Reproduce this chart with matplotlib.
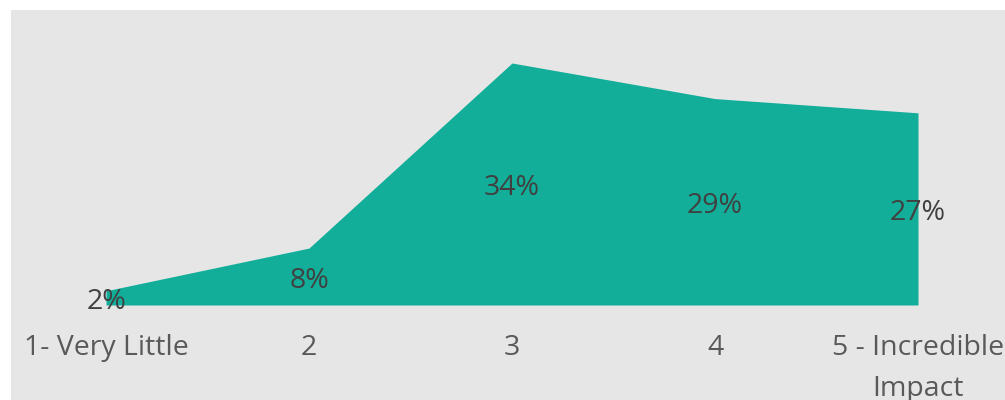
import matplotlib
matplotlib.use("Agg")
import matplotlib.pyplot as plt
from matplotlib.patches import Rectangle

categories = ["1- Very Little", "2", "3", "4", "5 - Incredible\nImpact"]
shares = [2, 8, 34, 29, 27]
value_labels = ["2%", "8%", "34%", "29%", "27%"]

plt.rcParams["font.family"] = ["Open Sans", "DejaVu Sans"]

W, H = 1005, 400
fig = plt.figure(figsize=(W / 100, H / 100), dpi=100)
fig.patch.set_facecolor("white")

# grey plot panel
fig.add_artist(Rectangle((11 / W, 0), 1 - 11 / W, (H - 10) / H,
                         transform=fig.transFigure, facecolor="#e6e6e6",
                         edgecolor="none", zorder=0))

ax = fig.add_axes([106 / W, 95 / H, 812 / W, 242 / H])
ax.set_facecolor("none")
x = list(range(len(categories)))
ax.fill_between(x, 0, shares, color="#12ae99", linewidth=0)
ax.set_xlim(0, len(categories) - 1)
ax.set_ylim(0, max(shares))

for xi, v, lab in zip(x, shares, value_labels):
    ax.annotate(lab, (xi, v / 2), xytext=(0, -3), textcoords="offset points",
                ha="center", va="center", fontsize=20.5, color="#404040",
                annotation_clip=False)

ax.set_xticks(x, categories)
ax.tick_params(axis="x", length=0, pad=21, labelsize=20.5, labelcolor="#595959")
for t in ax.get_xticklabels():
    t.set_linespacing(1.6)
ax.set_yticks([])
for s in ax.spines.values():
    s.set_visible(False)

fig.savefig("out.png", dpi=100)
